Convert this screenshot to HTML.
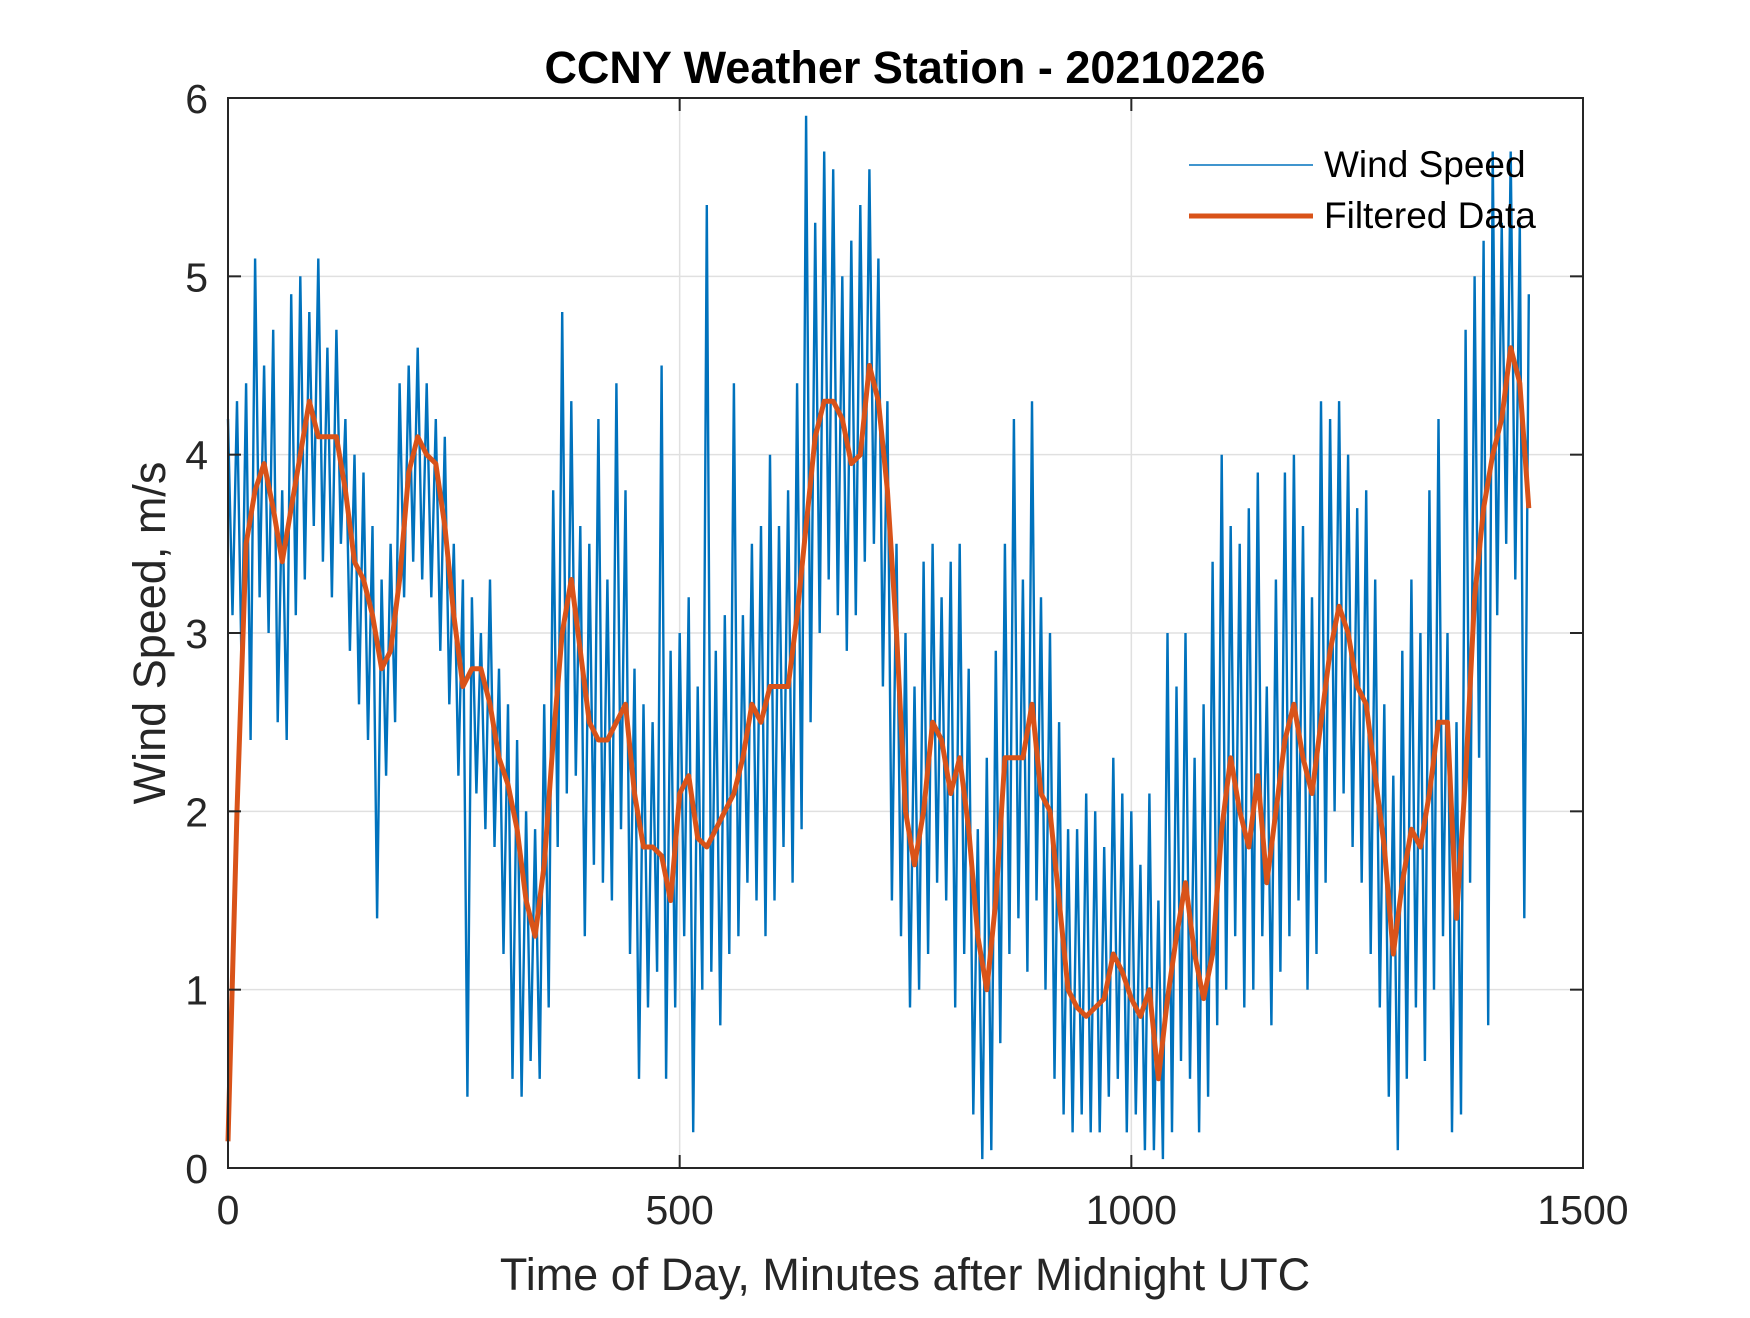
<!DOCTYPE html>
<html><head><meta charset="utf-8"><style>
body{margin:0;background:#fff}
svg text{font-family:"Liberation Sans",Arial,sans-serif;fill:#262626}
</style></head><body>
<svg id="chart" width="1750" height="1313">
<rect width="1750" height="1313" fill="#fff"/>
<g id="grid"></g>
<g id="series"></g>
<rect x="228" y="98" width="1355" height="1070" fill="none" stroke="#262626" stroke-width="2"/>
<g id="ticks"></g>
<text x="905" y="83" font-size="45" font-weight="bold" text-anchor="middle" style="fill:#000">CCNY Weather Station - 20210226</text>
<text x="905" y="1290" font-size="45" text-anchor="middle">Time of Day, Minutes after Midnight UTC</text>
<text x="0" y="0" font-size="45" text-anchor="middle" transform="translate(165,633) rotate(-90)">Wind Speed, m/s</text>
<g>
<line x1="1189" y1="165" x2="1313" y2="165" stroke="#0072BD" stroke-width="1.5"/>
<text x="1324" y="177" font-size="37" style="fill:#000">Wind Speed</text>
<line x1="1189" y1="216" x2="1313" y2="216" stroke="#D95319" stroke-width="5"/>
<text x="1324" y="228" font-size="37" style="fill:#000">Filtered Data</text>
</g>
</svg>
<script>
const xTicks=[0,500,1000,1500];
const yTicks=[0,1,2,3,4,5,6];
const rawStep=5;
const rawValues=[4.2,3.1,4.3,2.8,4.4,2.4,5.1,3.2,4.5,3.0,4.7,2.5,3.8,2.4,4.9,3.1,5.0,3.3,4.8,3.6,5.1,3.4,4.6,3.2,4.7,3.5,4.2,2.9,4.0,2.6,3.9,2.4,3.6,1.4,3.3,2.2,3.5,2.5,4.4,3.2,4.5,3.4,4.6,3.3,4.4,3.2,4.2,2.9,4.1,2.6,3.5,2.2,3.3,0.4,3.2,2.1,3.0,1.9,3.3,1.8,2.8,1.2,2.6,0.5,2.4,0.4,2.0,0.6,1.9,0.5,2.6,0.9,3.8,1.8,4.8,2.1,4.3,2.2,3.6,1.3,3.5,1.7,4.2,1.6,3.3,1.5,4.4,1.9,3.8,1.2,2.8,0.5,2.6,0.9,2.5,1.1,4.5,0.5,2.9,0.9,3.0,1.3,3.2,0.2,2.7,1.0,5.4,1.1,2.9,0.8,3.1,1.2,4.4,1.3,3.1,1.6,3.5,1.5,3.6,1.3,4.0,1.5,3.6,1.8,3.8,1.6,4.4,1.9,5.9,2.5,5.3,3.0,5.7,3.3,5.6,3.1,5.0,2.9,5.2,3.1,5.4,3.4,5.6,3.5,5.1,2.7,4.3,1.5,3.5,1.3,3.0,0.9,2.7,1.0,3.4,1.2,3.5,1.6,3.2,1.5,3.4,0.9,3.5,1.2,2.8,0.3,1.9,0.05,2.3,0.1,2.9,0.7,3.5,1.2,4.2,1.4,3.3,1.1,4.3,1.5,3.2,1.0,3.0,0.5,2.5,0.3,1.9,0.2,1.9,0.3,2.1,0.2,2.0,0.2,1.8,0.4,2.3,0.5,2.1,0.2,2.0,0.3,1.7,0.1,2.1,0.1,1.5,0.05,3.0,0.2,2.7,0.6,3.0,0.5,2.3,0.2,2.6,0.4,3.4,0.8,4.0,1.0,3.6,1.3,3.5,0.9,3.7,1.0,3.9,1.3,2.7,0.8,3.3,1.1,3.9,1.3,4.0,1.5,3.6,1.0,3.2,1.2,4.3,1.6,4.2,2.0,4.3,2.1,4.0,1.8,3.7,1.6,3.8,1.2,3.3,0.9,2.6,0.4,2.2,0.1,2.9,0.5,3.3,0.9,3.0,0.6,3.8,1.0,4.2,1.3,3.0,0.2,2.5,0.3,4.7,1.6,5.0,2.3,5.2,0.8,5.7,3.1,5.3,3.5,5.7,3.3,5.3,1.4,4.9];
const filtTimes=[0,10,20,30,40,50,60,70,80,90,100,110,120,130,140,150,160,170,180,190,200,210,220,230,240,250,260,270,280,290,300,310,320,330,340,350,360,370,380,390,400,410,420,430,440,450,460,470,480,490,500,510,520,530,540,550,560,570,580,590,600,610,620,630,640,650,660,670,680,690,700,710,720,730,740,750,760,770,780,790,800,810,820,830,840,850,860,870,880,890,900,910,920,930,940,950,960,970,980,990,1000,1010,1020,1030,1040,1050,1060,1070,1080,1090,1100,1110,1120,1130,1140,1150,1160,1170,1180,1190,1200,1210,1220,1230,1240,1250,1260,1270,1280,1290,1300,1310,1320,1330,1340,1350,1360,1370,1380,1390,1400,1410,1420,1430,1440];
const filtValues=[0.15,2.0,3.5,3.8,3.95,3.7,3.4,3.7,4.0,4.3,4.1,4.1,4.1,3.8,3.4,3.3,3.1,2.8,2.9,3.3,3.9,4.1,4.0,3.95,3.6,3.1,2.7,2.8,2.8,2.6,2.3,2.15,1.9,1.5,1.3,1.7,2.4,3.0,3.3,2.9,2.5,2.4,2.4,2.5,2.6,2.1,1.8,1.8,1.75,1.5,2.1,2.2,1.85,1.8,1.9,2.0,2.1,2.3,2.6,2.5,2.7,2.7,2.7,3.1,3.6,4.1,4.3,4.3,4.2,3.95,4.0,4.5,4.3,3.8,3.0,2.0,1.7,2.0,2.5,2.4,2.1,2.3,1.9,1.3,1.0,1.5,2.3,2.3,2.3,2.6,2.1,2.0,1.5,1.0,0.9,0.85,0.9,0.95,1.2,1.1,0.95,0.85,1.0,0.5,0.95,1.3,1.6,1.2,0.95,1.2,1.9,2.3,2.0,1.8,2.2,1.6,2.0,2.4,2.6,2.3,2.1,2.5,2.9,3.15,3.0,2.7,2.6,2.2,1.8,1.2,1.6,1.9,1.8,2.1,2.5,2.5,1.4,2.2,3.2,3.7,4.0,4.2,4.6,4.4,3.7];
const X0=228,X1=1583,Y0=1168,Y1=98;
const xs=t=>X0+t/1500*(X1-X0);
const ys=v=>Y0-v/6*(Y0-Y1);
const NS="http://www.w3.org/2000/svg";
function mk(tag,attrs,parent){const e=document.createElementNS(NS,tag);for(const k in attrs)e.setAttribute(k,attrs[k]);parent.appendChild(e);return e;}
const grid=document.getElementById('grid'),ticks=document.getElementById('ticks'),series=document.getElementById('series');
xTicks.forEach(t=>{
 const g=mk('line',{x1:xs(t),x2:xs(t),y1:Y1,y2:Y0,stroke:'#e0e0e0','stroke-width':1.5},grid);
 
 
 mk('line',{x1:xs(t),x2:xs(t),y1:Y0,y2:Y0-13,stroke:'#262626','stroke-width':2},ticks);
 mk('line',{x1:xs(t),x2:xs(t),y1:Y1,y2:Y1+13,stroke:'#262626','stroke-width':2},ticks);
 const l=mk('text',{x:xs(t),y:Y0+56,'font-size':41,'text-anchor':'middle'},ticks);
 l.textContent=t;
 
 
});
yTicks.forEach(v=>{
 const g=mk('line',{x1:X0,x2:X1,y1:ys(v),y2:ys(v),stroke:'#e0e0e0','stroke-width':1.5},grid);
 
 
 mk('line',{x1:X0,x2:X0+13,y1:ys(v),y2:ys(v),stroke:'#262626','stroke-width':2},ticks);
 mk('line',{x1:X1,x2:X1-13,y1:ys(v),y2:ys(v),stroke:'#262626','stroke-width':2},ticks);
 const l=mk('text',{x:X0-20,y:ys(v)+15,'font-size':41,'text-anchor':'end'},ticks);
 l.textContent=v;
 
 
});
const rp=mk('path',{d:rawValues.map((v,i)=>(i?'L':'M')+xs(i*rawStep).toFixed(1)+','+ys(v).toFixed(1)).join(''),fill:'none',stroke:'#0072BD','stroke-width':2.4},series);


const fp=mk('path',{d:filtValues.map((v,i)=>(i?'L':'M')+xs(filtTimes[i]).toFixed(1)+','+ys(v).toFixed(1)).join(''),fill:'none',stroke:'#D95319','stroke-width':5,'stroke-linejoin':'round'},series);


</script>
</body></html>
